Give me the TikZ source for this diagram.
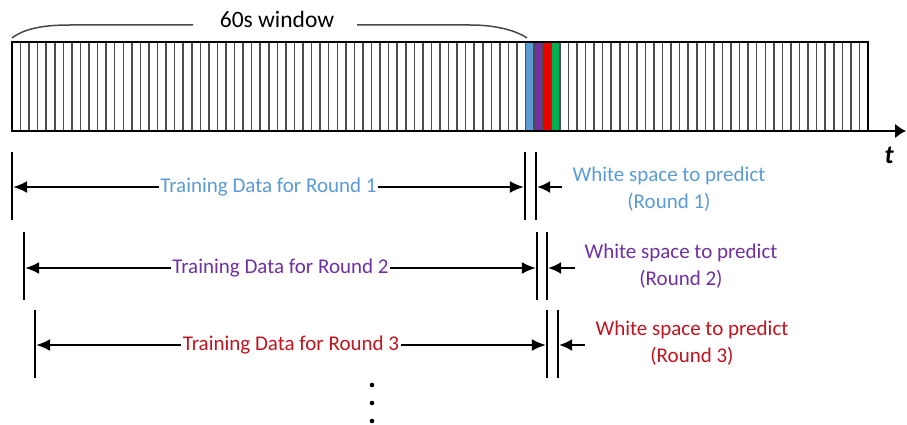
\documentclass[tikz,border=0pt]{standalone}
\usepackage{fontspec}
\setmainfont{Carlito}
\usetikzlibrary{arrows.meta}
\definecolor{roundblue}{RGB}{91,155,213}
\definecolor{roundpurple}{RGB}{112,48,160}
\definecolor{roundred}{RGB}{192,20,30}
\definecolor{slotred}{RGB}{235,0,0}
\definecolor{slotgreen}{RGB}{0,176,80}
\definecolor{bracegray}{RGB}{70,70,70}
\begin{document}
\begin{tikzpicture}[x=1pt,y=-1pt,
  tickline/.style={line width=2.4pt},
  span/.style={line width=1.7pt,{Latex[length=14pt,width=12pt]}-{Latex[length=14pt,width=12pt]}},
  gaparrow/.style={line width=1.7pt,-{Latex[length=13pt,width=12pt]}},
  lbl/.style={font=\fontsize{21}{25}\selectfont, fill=white, inner xsep=1.5pt, inner ysep=0pt, anchor=base, yshift=-5pt},
  note/.style={font=\fontsize{21}{26.5}\selectfont, align=center},
  slotline/.style={line width=1.5pt, draw=black!70}
]
\useasboundingbox (0,0) rectangle (907,425);

% time slots: 100 slots of one second each
\def\w{8.56}
\foreach \c [count=\i from 60] in {roundblue,roundpurple,slotred,slotgreen}
  \fill[\c] ({12+\i*\w},42) rectangle ({12+(\i+1)*\w},131);
\foreach \i in {1,...,99}
  \draw[slotline] ({12+\i*\w},42) -- ({12+\i*\w},131);
\draw[line width=2.3pt] (12,42) rectangle (868,131);

% time axis
\coordinate (ax0) at (12,131);
\coordinate (ax1) at (906,131);
\draw[line width=2.3pt,-{Latex[length=11pt,width=15pt]}] (ax0) -- (ax1);
\node[font=\fontsize{26}{28}\selectfont\bfseries\itshape] (tlab) at (889,155) {t};

% brace over the 60 s window
\node[font=\fontsize{23.5}{28}\selectfont, inner sep=2pt] (win) at (277,19) {60s window};
\draw[bracegray, line width=1.5pt] (12,38) .. controls (25,28) and (45,25) .. (70,25) -- (193,25);
\draw[bracegray, line width=1.5pt] (357,25) -- (470,25) .. controls (495,25) and (515,30) .. (527,38);

% training spans and prediction gaps for each round
\foreach \n/\L/\Ra/\Rb/\Y/\Top/\Bot/\S/\col/\nx/\ny in {
    1/12/525/536/187/152/220/562/roundblue/669/189,
    2/24/537/547/268/232/300/575/roundpurple/681/266,
    3/35/547/558/345/310/378/585/roundred/692/343}{
  \draw[tickline] (\L,\Top) -- (\L,\Bot);
  \draw[tickline] (\Ra,\Top) -- (\Ra,\Bot);
  \draw[tickline] (\Rb,\Top) -- (\Rb,\Bot);
  \coordinate (L\n) at ({\L+1.2},\Y);
  \coordinate (R\n) at ({\Ra-1.2},\Y);
  \coordinate (Q\n) at ({\Rb+1.2},\Y);
  \coordinate (S\n) at (\S,\Y);
  \draw[span] (L\n) -- (R\n) node[midway, lbl, text=\col] (train\n) {Training Data for Round \n};
  \draw[gaparrow] (S\n) -- (Q\n);
  \node[note, text=\col] (note\n) at (\nx,\ny) {White space to predict\\(Round \n)};
}

% more rounds follow
\foreach \yy in {385,403,421}
  \fill (372,\yy) circle (2.3);
\end{tikzpicture}
\end{document}
